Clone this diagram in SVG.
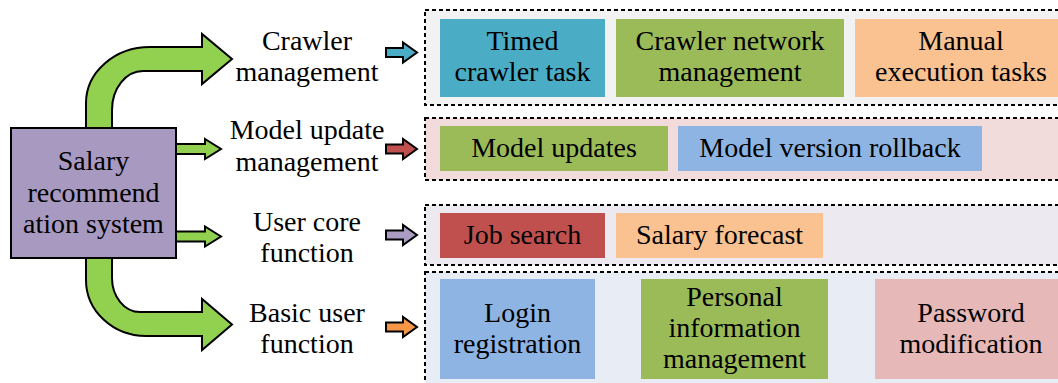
<svg xmlns="http://www.w3.org/2000/svg" width="1058" height="383" viewBox="0 0 1058 383">
<style>
text{font-size:28px;fill:#000;text-anchor:middle}
.big{fill:#92D050;stroke:#000;stroke-width:2;stroke-linejoin:miter}
.sm{stroke:#000;stroke-width:2}
.grp{stroke:#000;stroke-width:2;stroke-dasharray:4 3}
</style>
<defs>
<path id="sarrow" d="M0,-4.5 L17,-4.5 L17,-10 L31,0 L17,10 L17,4.5 L0,4.5 Z"/>
</defs>
<rect width="1058" height="383" fill="#fff"/>
<g id="connectors">
<path class="big" d="M86,128 L86,103 A64,56 0 0 1 150,47 L202,47 L202,34 L232,59 L202,84 L202,71 L143,71 A31,39 0 0 0 112,110 L112,128 Z"/>
<path class="big" d="M176,144 L205,144 L205,139 L221,149 L205,159 L205,154 L176,154 Z"/>
<path class="big" d="M176,231.5 L205,231.5 L205,226.5 L221,236.5 L205,246.5 L205,241.5 L176,241.5 Z"/>
<path class="big" d="M86,258 L86,280 A60,56 0 0 0 146,336 L202,336 L202,350 L232,324.5 L202,299 L202,312 L140,312 A28,34 0 0 1 112,278 L112,258 Z"/>
<use href="#sarrow" class="sm" x="386" y="52.5" fill="#4BACC6"/>
<use href="#sarrow" class="sm" x="386" y="149" fill="#C0504D"/>
<use href="#sarrow" class="sm" x="386" y="235" fill="#A99BC1"/>
<use href="#sarrow" class="sm" x="386" y="327" fill="#F79646"/>
</g>
<g font-family="Liberation Serif, DejaVu Serif, serif">
<g id="system">
<rect x="11" y="128" width="165" height="130" fill="#A899C0" stroke="#000" stroke-width="2"/>
<text x="93.5" y="170">Salary</text>
<text x="93.5" y="202">recommend</text>
<text x="93.5" y="233">ation system</text>
</g>
<g id="label-crawler"><text x="307" y="50">Crawler</text><text x="307" y="81">management</text></g>
<g id="label-model"><text x="307" y="139">Model update</text><text x="307" y="171">management</text></g>
<g id="label-usercore"><text x="307" y="231">User core</text><text x="307" y="262">function</text></g>
<g id="label-basic"><text x="307" y="322">Basic user</text><text x="307" y="353">function</text></g>
<g id="group-crawler">
<rect class="grp" x="425" y="10" width="650" height="95" fill="#F2F2F2"/>
<g id="timed"><rect x="440" y="19" width="165" height="78" fill="#4BACC6"/><text x="522.5" y="50">Timed</text><text x="522.5" y="81">crawler task</text></g>
<g id="crawlernet"><rect x="616" y="19" width="228" height="78" fill="#9BBB59"/><text x="730" y="50">Crawler network</text><text x="730" y="81">management</text></g>
<g id="manual"><rect x="855" y="19" width="212" height="78" fill="#FAC191"/><text x="961" y="50">Manual</text><text x="961" y="81">execution tasks</text></g>
</g>
<g id="group-model">
<rect class="grp" x="425" y="118" width="650" height="62" fill="#F2DCDB"/>
<g id="modelupdates"><rect x="440" y="126" width="228" height="45" fill="#9BBB59"/><text x="554" y="157">Model updates</text></g>
<g id="rollback"><rect x="678" y="126" width="304" height="45" fill="#8EB4E3"/><text x="830" y="157">Model version rollback</text></g>
</g>
<g id="group-usercore">
<rect class="grp" x="425" y="205" width="650" height="60" fill="#ECE9F0"/>
<g id="jobsearch"><rect x="440" y="213" width="165" height="45" fill="#C0504D"/><text x="522.5" y="244">Job search</text></g>
<g id="salaryforecast"><rect x="616" y="213" width="207" height="45" fill="#FAC191"/><text x="719.5" y="244">Salary forecast</text></g>
</g>
<g id="group-basic">
<rect class="grp" x="425" y="272" width="650" height="125" fill="#E8ECF4"/>
<g id="login"><rect x="440" y="279" width="155" height="100" fill="#8EB4E3"/><text x="517.5" y="322">Login</text><text x="517.5" y="353">registration</text></g>
<g id="personal"><rect x="641" y="279" width="187" height="100" fill="#9BBB59"/><text x="734.5" y="306">Personal</text><text x="734.5" y="337">information</text><text x="734.5" y="368">management</text></g>
<g id="password"><rect x="875" y="279" width="192" height="100" fill="#E6B9B8"/><text x="971" y="322">Password</text><text x="971" y="353">modification</text></g>
</g>
</g>
</svg>
